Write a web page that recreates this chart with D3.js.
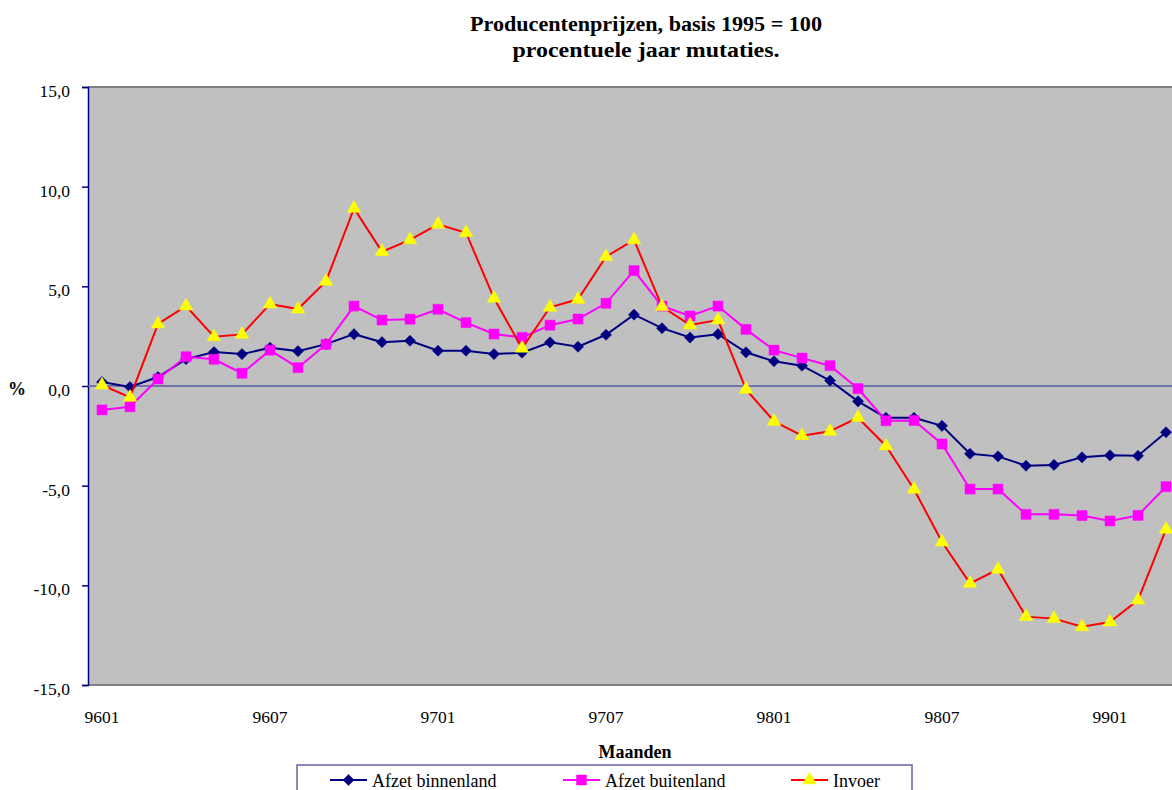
<!DOCTYPE html>
<html>
<head>
<meta charset="utf-8">
<script src="https://cdn.jsdelivr.net/npm/d3@7"></script>
<style>
  body { margin: 0; background: #fff; }
  svg { display: block; overflow: hidden; font-family: "Liberation Serif", serif; }
  text { font-family: "Liberation Serif", serif; fill: #000; }
</style>
</head>
<body>
<div id="chart"></div>
<script>
// Maanden (jjmm)
const maanden = ["9601","9602","9603","9604","9605","9606","9607","9608","9609","9610","9611","9612",
                 "9701","9702","9703","9704","9705","9706","9707","9708","9709","9710","9711","9712",
                 "9801","9802","9803","9804","9805","9806","9807","9808","9809","9810","9811","9812",
                 "9901","9902","9903"];

// procentuele jaar mutaties
const binnenland = [0.2, -0.05, 0.45, 1.35, 1.7, 1.6, 1.92, 1.75, 2.1, 2.6, 2.2, 2.27, 1.77, 1.77, 1.6, 1.67, 2.19, 1.97, 2.57, 3.58,
                    2.9, 2.43, 2.6, 1.69, 1.24, 1.02, 0.27, -0.77, -1.59, -1.59, -2.0, -3.4, -3.53, -4.0, -3.96, -3.58, -3.48, -3.5, -2.32];
const buitenland = [-1.2, -1.04, 0.35, 1.47, 1.34, 0.64, 1.8, 0.92, 2.09, 4.01, 3.31, 3.35, 3.85, 3.18, 2.61, 2.44, 3.05, 3.36, 4.15, 5.79,
                    4.01, 3.51, 4.01, 2.84, 1.8, 1.4, 1.02, -0.13, -1.74, -1.73, -2.91, -5.17, -5.17, -6.44, -6.44, -6.5, -6.77, -6.49, -5.05];
const invoer = [0.05, -0.57, 3.11, 4.01, 2.47, 2.59, 4.11, 3.86, 5.25, 8.91, 6.74, 7.33, 8.11, 7.69, 4.4, 1.89, 3.95, 4.35, 6.49, 7.33,
                3.98, 3.06, 3.31, -0.17, -1.77, -2.49, -2.27, -1.59, -3.01, -5.18, -7.83, -9.9, -9.2, -11.57, -11.67, -12.08, -11.84, -10.74, -7.19];

const yTicks = [-15, -10, -5, 0, 5, 10, 15];
const xLabels = ["9601", "9607", "9701", "9707", "9801", "9807", "9901"];

// ruit = vierkant 45 graden gedraaid
const reeksen = [
  { naam: "Afzet binnenland", waarden: binnenland, lijn: "#000080", vulling: "#000080", symbool: d3.symbolSquare, grootte: 62, draai: 45 },
  { naam: "Afzet buitenland", waarden: buitenland, lijn: "#ff00ff", vulling: "#ff00ff", symbool: d3.symbolSquare, grootte: 100, draai: 0 },
  { naam: "Invoer", waarden: invoer, lijn: "#ff0000", vulling: "#ffff00", symbool: d3.symbolTriangle, grootte: 80, draai: 0 }
];

// Afmetingen
const W = 1172, H = 790;
const plot = { left: 88, top: 87, right: 1180, bottom: 685 };

const svg = d3.select("#chart").append("svg")
  .attr("width", W)
  .attr("height", H);

const x = d3.scaleBand().domain(maanden).range([plot.left, plot.right]);
const cx = d => x(d) + x.bandwidth() / 2;
const y = d3.scaleLinear().domain([-15, 15]).range([plot.bottom, plot.top]);

// Titel
const titel = svg.append("g").attr("font-weight", "bold").attr("font-size", 20).attr("text-anchor", "middle");
titel.append("text").attr("x", 646).attr("y", 31)
  .attr("textLength", 352).attr("lengthAdjust", "spacingAndGlyphs")
  .text("Producentenprijzen, basis 1995 = 100");
titel.append("text").attr("x", 646).attr("y", 57)
  .attr("textLength", 267).attr("lengthAdjust", "spacingAndGlyphs")
  .text("procentuele jaar mutaties.");

// Plotgebied
svg.append("rect")
  .attr("x", plot.left).attr("y", plot.top)
  .attr("width", plot.right - plot.left).attr("height", plot.bottom - plot.top)
  .attr("fill", "#c0c0c0");
svg.append("line").attr("x1", plot.left).attr("x2", plot.right).attr("y1", plot.top).attr("y2", plot.top)
  .attr("stroke", "#808080").attr("stroke-width", 2);
svg.append("line").attr("x1", plot.left).attr("x2", plot.right).attr("y1", plot.bottom).attr("y2", plot.bottom)
  .attr("stroke", "#808080").attr("stroke-width", 2);

// Y-as
const yAxis = d3.axisLeft(y)
  .tickValues(yTicks)
  .tickSize(6)
  .tickPadding(12)
  .tickFormat(d => d.toFixed(1).replace(".", ","));

const yg = svg.append("g")
  .attr("transform", `translate(${plot.left},0)`)
  .call(yAxis)
  .attr("font-family", "Liberation Serif, serif")
  .attr("font-size", 17.5);
yg.select(".domain").attr("stroke", "#000080").attr("stroke-width", 1.5);
yg.selectAll(".tick line").attr("stroke", "#000080").attr("stroke-width", 1.5);
yg.selectAll(".tick text")
  .attr("dy", "0.54em")
  .attr("fill", "#000");

// Nullijn
svg.append("line")
  .attr("x1", plot.left).attr("x2", plot.right)
  .attr("y1", y(0)).attr("y2", y(0))
  .attr("stroke", "#5a5aa6").attr("stroke-width", 1.5);

// X labels
svg.append("g").selectAll("text")
  .data(xLabels)
  .join("text")
  .attr("x", d => cx(d))
  .attr("y", 723)
  .attr("text-anchor", "middle")
  .attr("font-size", 17.5)
  .text(d => d);

// As-titels
svg.append("text")
  .attr("x", 17).attr("y", 395)
  .attr("text-anchor", "middle")
  .attr("font-weight", "bold")
  .attr("font-size", 18)
  .text("%");

svg.append("text")
  .attr("x", 635).attr("y", 758)
  .attr("text-anchor", "middle")
  .attr("font-weight", "bold")
  .attr("font-size", 18)
  .text("Maanden");

// Lijnen en markers
const line = d3.line()
  .x((d, i) => cx(maanden[i]))
  .y(d => y(d));

const series = svg.append("g")
  .selectAll("g")
  .data(reeksen)
  .join("g");

series.append("path")
  .attr("d", s => line(s.waarden))
  .attr("fill", "none")
  .attr("stroke", s => s.lijn)
  .attr("stroke-width", 2);

series.each(function (s) {
  d3.select(this).selectAll("path.marker")
    .data(s.waarden)
    .join("path")
    .attr("class", "marker")
    .attr("transform", (d, i) => `translate(${cx(maanden[i])},${y(d)}) rotate(${s.draai})`)
    .attr("d", d3.symbol().type(s.symbool).size(s.grootte))
    .attr("fill", s.vulling)
    .attr("stroke", s.vulling)
    .attr("stroke-width", 0.5);
});

// Legenda
const legend = svg.append("g");
legend.append("rect")
  .attr("x", 297).attr("y", 765)
  .attr("width", 615).attr("height", 60)
  .attr("fill", "#fff")
  .attr("stroke", "#6464aa")
  .attr("stroke-width", 1.5);

const legendX = [330, 563, 791];
const items = legend.selectAll("g.item")
  .data(reeksen)
  .join("g")
  .attr("class", "item")
  .attr("transform", (s, i) => `translate(${legendX[i]},780)`);

items.append("line")
  .attr("x1", 0).attr("x2", 37)
  .attr("stroke", s => s.lijn)
  .attr("stroke-width", 2);
items.append("path")
  .attr("transform", s => `translate(18.5,0) rotate(${s.draai})`)
  .attr("d", s => d3.symbol().type(s.symbool).size(s.grootte)())
  .attr("fill", s => s.vulling)
  .attr("stroke", s => s.vulling)
  .attr("stroke-width", 0.5);
items.append("text")
  .attr("x", 42).attr("y", 7)
  .attr("font-size", 18)
  .text(s => s.naam);
</script>
</body>
</html>
